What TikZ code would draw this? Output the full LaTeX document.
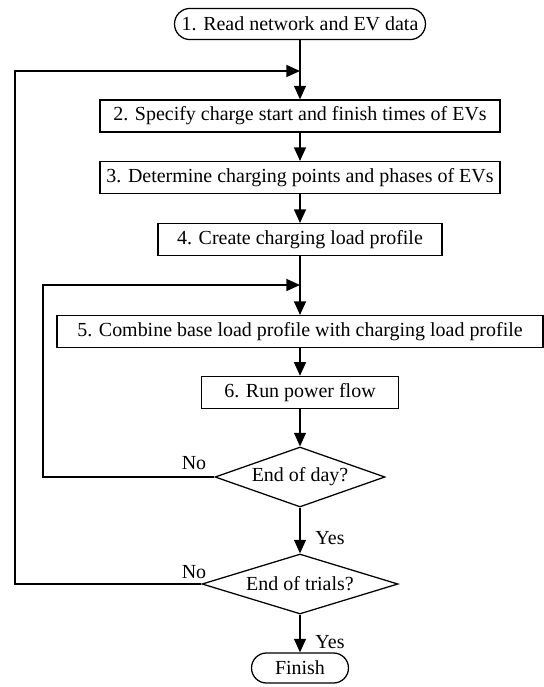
\documentclass[tikz,border=0pt]{standalone}
\usepackage{fontspec}
\setmainfont{Liberation Serif}
\usepackage{tikz}
\usetikzlibrary{positioning,shapes.geometric,arrows.meta}

\tikzset{
  stepbox/.style={draw, rectangle, minimum height=0.8cm, inner sep=2pt},
  endbox/.style={draw, rectangle, rounded corners=0.39cm, minimum height=0.78cm, inner sep=2pt},
  decide/.style={draw, diamond, aspect=2.8, inner sep=0pt, minimum height=1.5cm},
  lbl/.style={inner sep=0pt}
}

\begin{document}
\begin{tikzpicture}[>={Triangle[length=3.4mm,width=3mm]}, line width=0.9pt,
                    font=\fontsize{14.2}{17}\selectfont]
  \useasboundingbox (0,0) rectangle (13.6,-17.175);
  % steps
  \node[endbox, minimum width=6.275cm] (read) at (7.5,-0.6) {1. Read network and EV data};
  \node[stepbox, minimum width=10cm] (spec) at (7.5,-2.9) {2. Specify charge start and finish times of EVs};
  \node[stepbox, minimum width=10cm] (det) at (7.5,-4.44) {3. Determine charging points and phases of EVs};
  \node[stepbox, minimum width=7.1cm] (create) at (7.5,-5.99) {4. Create charging load profile};
  \node[stepbox, minimum width=12.15cm] (comb) at (7.5,-8.29) {5. Combine base load profile with charging load profile};
  \node[stepbox, minimum width=4.925cm] (run) at (7.5,-9.81) {6. Run power flow};
  % decisions
  \node[decide, minimum width=4.25cm] (day) at (7.5,-11.925) {End of day?};
  \node[decide, minimum width=4.9cm] (trials) at (7.5,-14.6) {End of trials?};
  \node[endbox, rounded corners=0.375cm, minimum width=2.425cm, minimum height=0.75cm] (fin) at (7.5,-16.7) {Finish};
  % junctions on the main line
  \coordinate (j1) at (7.5,-1.775);
  \coordinate (j2) at (7.5,-7.125);
  \coordinate (o1) at (0.375,-1.775);
  \coordinate (o2) at (1.075,-7.125);
  % main flow
  \draw[->] (read) -- (spec);
  \draw[->] (spec) -- (det);
  \draw[->] (det) -- (create);
  \draw[->] (create) -- (comb);
  \draw[->] (comb) -- (run);
  \draw[->] (run) -- (day);
  \draw[->] (day) -- (trials);
  \draw[->] (trials) -- (fin);
  % loops back
  \draw[->] (day.west) -| (o2) -- (j2);
  \draw[->] (trials.west) -| (o1) -- (j1);
  % labels
  \node[lbl] (no1) at (4.85,-11.575) {No};
  \node[lbl] (no2) at (4.85,-14.3) {No};
  \node[lbl] (yes1) at (8.25,-13.45) {Yes};
  \node[lbl] (yes2) at (8.25,-16.05) {Yes};
\end{tikzpicture}
\end{document}
